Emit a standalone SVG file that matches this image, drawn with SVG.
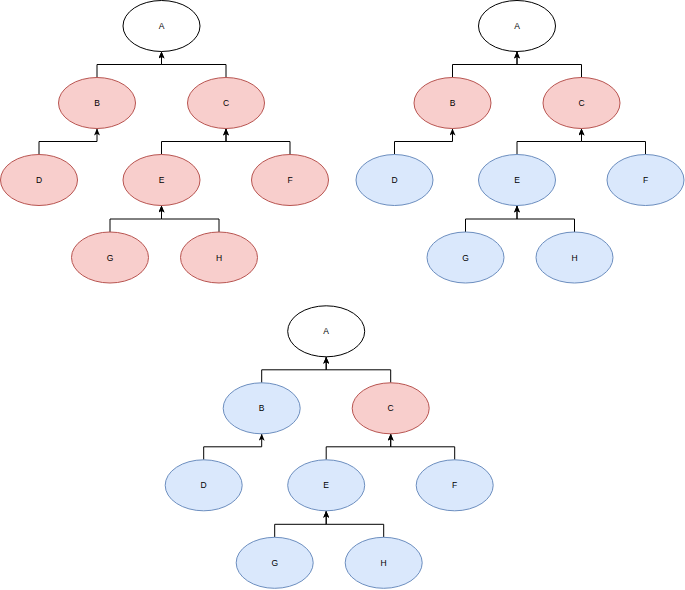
<svg xmlns="http://www.w3.org/2000/svg" width="685" height="590" viewBox="0 0 685 590">
<defs>
<style>
.red{fill:#f8cecc;stroke:#b85450;stroke-width:1}
.blue{fill:#dae8fc;stroke:#6c8ebf;stroke-width:1}
.white{fill:#ffffff;stroke:#000000;stroke-width:1}
.lbl{font-family:"Liberation Sans",Arial,sans-serif;font-size:8.5px;fill:#000;text-anchor:middle}
.edge{fill:none;stroke:#000;stroke-width:1;marker-end:url(#arr)}
</style>
<marker id="arr" markerUnits="userSpaceOnUse" markerWidth="7" markerHeight="6" refX="7" refY="3" orient="auto">
<path d="M0,0 L7,3 L0,6 L1.8,3 z" fill="#000"/>
</marker>
</defs>
<rect width="685" height="590" fill="#ffffff"/>
<g id="connectors">
<g id="edges-tree1">
<path class="edge" d="M97,77.5 V64.5 H161.5 V51.5"/>
<path class="edge" d="M226,77.5 V64.5 H161.5 V51.5"/>
<path class="edge" d="M39,154.5 V141.5 H97 V128.5"/>
<path class="edge" d="M161.5,154.5 V141.5 H226 V128.5"/>
<path class="edge" d="M290,154.5 V141.5 H226 V128.5"/>
<path class="edge" d="M110,232 V219 H161.5 V205.5"/>
<path class="edge" d="M219,232 V219 H161.5 V205.5"/>
</g>
<g id="edges-tree2" transform="translate(355.5,0)">
<path class="edge" d="M97,77.5 V64.5 H161.5 V51.5"/>
<path class="edge" d="M226,77.5 V64.5 H161.5 V51.5"/>
<path class="edge" d="M39,154.5 V141.5 H97 V128.5"/>
<path class="edge" d="M161.5,154.5 V141.5 H226 V128.5"/>
<path class="edge" d="M290,154.5 V141.5 H226 V128.5"/>
<path class="edge" d="M110,232 V219 H161.5 V205.5"/>
<path class="edge" d="M219,232 V219 H161.5 V205.5"/>
</g>
<g id="edges-tree3" transform="translate(164.7,305.3)">
<path class="edge" d="M97,77.5 V64.5 H161.5 V51.5"/>
<path class="edge" d="M226,77.5 V64.5 H161.5 V51.5"/>
<path class="edge" d="M39,154.5 V141.5 H97 V128.5"/>
<path class="edge" d="M161.5,154.5 V141.5 H226 V128.5"/>
<path class="edge" d="M290,154.5 V141.5 H226 V128.5"/>
<path class="edge" d="M110,232 V219 H161.5 V205.5"/>
<path class="edge" d="M219,232 V219 H161.5 V205.5"/>
</g>
</g>
<g id="tree1">
<g id="t1-A"><ellipse class="white" cx="161.5" cy="26" rx="38.5" ry="25.5"/><text class="lbl" x="161.5" y="29">A</text></g>
<g id="t1-B"><ellipse class="red" cx="97" cy="103" rx="38.5" ry="25.5"/><text class="lbl" x="97" y="106">B</text></g>
<g id="t1-C"><ellipse class="red" cx="226" cy="103" rx="38.5" ry="25.5"/><text class="lbl" x="226" y="106">C</text></g>
<g id="t1-D"><ellipse class="red" cx="39" cy="180" rx="38.5" ry="25.5"/><text class="lbl" x="39" y="183">D</text></g>
<g id="t1-E"><ellipse class="red" cx="161.5" cy="180" rx="38.5" ry="25.5"/><text class="lbl" x="161.5" y="183">E</text></g>
<g id="t1-F"><ellipse class="red" cx="290" cy="180" rx="38.5" ry="25.5"/><text class="lbl" x="290" y="183">F</text></g>
<g id="t1-G"><ellipse class="red" cx="110" cy="257.5" rx="38.5" ry="25.5"/><text class="lbl" x="110" y="260.5">G</text></g>
<g id="t1-H"><ellipse class="red" cx="219" cy="257.5" rx="38.5" ry="25.5"/><text class="lbl" x="219" y="260.5">H</text></g>
</g>
<g id="tree2" transform="translate(355.5,0)">
<g id="t2-A"><ellipse class="white" cx="161.5" cy="26" rx="38.5" ry="25.5"/><text class="lbl" x="161.5" y="29">A</text></g>
<g id="t2-B"><ellipse class="red" cx="97" cy="103" rx="38.5" ry="25.5"/><text class="lbl" x="97" y="106">B</text></g>
<g id="t2-C"><ellipse class="red" cx="226" cy="103" rx="38.5" ry="25.5"/><text class="lbl" x="226" y="106">C</text></g>
<g id="t2-D"><ellipse class="blue" cx="39" cy="180" rx="38.5" ry="25.5"/><text class="lbl" x="39" y="183">D</text></g>
<g id="t2-E"><ellipse class="blue" cx="161.5" cy="180" rx="38.5" ry="25.5"/><text class="lbl" x="161.5" y="183">E</text></g>
<g id="t2-F"><ellipse class="blue" cx="290" cy="180" rx="38.5" ry="25.5"/><text class="lbl" x="290" y="183">F</text></g>
<g id="t2-G"><ellipse class="blue" cx="110" cy="257.5" rx="38.5" ry="25.5"/><text class="lbl" x="110" y="260.5">G</text></g>
<g id="t2-H"><ellipse class="blue" cx="219" cy="257.5" rx="38.5" ry="25.5"/><text class="lbl" x="219" y="260.5">H</text></g>
</g>
<g id="tree3" transform="translate(164.7,305.3)">
<g id="t3-A"><ellipse class="white" cx="161.5" cy="26" rx="38.5" ry="25.5"/><text class="lbl" x="161.5" y="29">A</text></g>
<g id="t3-B"><ellipse class="blue" cx="97" cy="103" rx="38.5" ry="25.5"/><text class="lbl" x="97" y="106">B</text></g>
<g id="t3-C"><ellipse class="red" cx="226" cy="103" rx="38.5" ry="25.5"/><text class="lbl" x="226" y="106">C</text></g>
<g id="t3-D"><ellipse class="blue" cx="39" cy="180" rx="38.5" ry="25.5"/><text class="lbl" x="39" y="183">D</text></g>
<g id="t3-E"><ellipse class="blue" cx="161.5" cy="180" rx="38.5" ry="25.5"/><text class="lbl" x="161.5" y="183">E</text></g>
<g id="t3-F"><ellipse class="blue" cx="290" cy="180" rx="38.5" ry="25.5"/><text class="lbl" x="290" y="183">F</text></g>
<g id="t3-G"><ellipse class="blue" cx="110" cy="257.5" rx="38.5" ry="25.5"/><text class="lbl" x="110" y="260.5">G</text></g>
<g id="t3-H"><ellipse class="blue" cx="219" cy="257.5" rx="38.5" ry="25.5"/><text class="lbl" x="219" y="260.5">H</text></g>
</g>
</svg>
